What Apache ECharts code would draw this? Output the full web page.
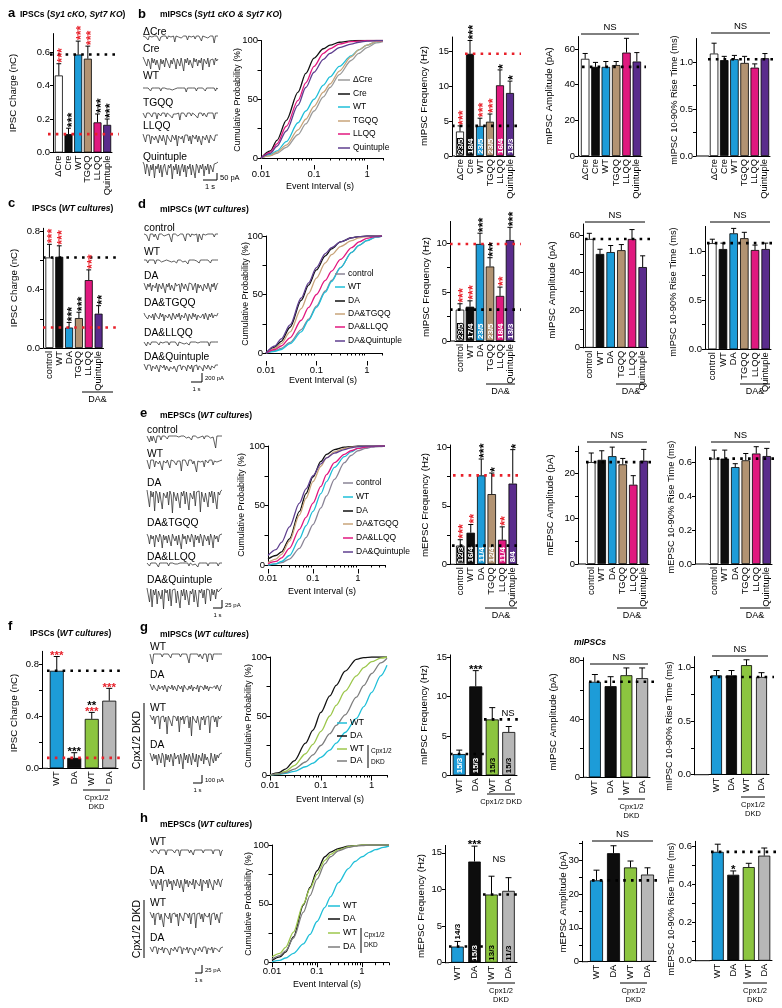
<!DOCTYPE html>
<html><head><meta charset="utf-8">
<script src="https://cdn.jsdelivr.net/npm/echarts@6/dist/echarts.min.js"></script>
<style>html,body{margin:0;padding:0;background:#fff}#c{width:782px;height:1008px}</style>
</head><body><div id="c"></div>
<script>
// ================= DATA =================
const catsSyt = ['ΔCre','Cre','WT','TGQQ','LLQQ','Quintuple'];
const catsDA = ['control','WT','DA','TGQQ','LLQQ','Quintuple'];
const catsCpx = ['WT','DA','WT','DA'];

// a: IPSC charge (nC)
const aCharge = [0.46,0.11,0.585,0.56,0.18,0.165];
const aChargeErr = [0.53,0.145,0.665,0.635,0.23,0.2];
const aStars = ['***','***','***','***','***','***'];
// b: mIPSCs Syt1 cKO & Syt7 KO
const bFreq = [3.5,14.6,4.3,4.9,10.1,9.0];
const bFreqErr = [4.3,16.5,5.4,6.0,12.3,10.7];
const bFreqN = ['23/5','18/4','23/5','23/5','16/4','13/3'];
const bFreqStars = ['***','***','***','***','*','*'];
const bAmp = [54.5,50,50,51,58,53];
const bAmpErr = [57.5,52.5,53,53,66,58];
const bRise = [1.09,1.02,1.03,0.99,0.94,1.04];
const bRiseErr = [1.2,1.06,1.07,1.06,0.98,1.09];
// c: IPSC charge, WT cultures
const cCharge = [0.62,0.625,0.14,0.205,0.465,0.235];
const cChargeErr = [0.71,0.70,0.175,0.245,0.535,0.29];
const cStars = ['***','***','***','***','***','**'];
// d: mIPSCs WT cultures
const dFreq = [3.2,3.5,9.9,7.6,4.6,10.3];
const dFreqErr = [3.8,4.1,11.0,8.5,5.5,11.6];
const dFreqN = ['23/5','17/4','23/5','23/5','18/4','13/3'];
const dFreqStars = ['***','***','***','***','**','***'];
const dAmp = [58,50,51,52,58,43];
const dAmpErr = [61,52.5,54.5,55,63,49];
const dRise = [1.08,1.02,1.18,1.13,1.01,1.02];
const dRiseErr = [1.12,1.08,1.23,1.19,1.06,1.08];
// e: mEPSCs WT cultures
const eFreq = [1.6,2.7,7.6,6.0,2.1,6.9];
const eFreqErr = [2.1,3.4,9.0,7.8,3.2,9.8];
const eFreqN = ['12/3','16/4','11/4','12/4','11/4','8/4'];
const eFreqStars = ['***','**','***','*','**','*'];
const eAmp = [22.5,23,23.8,22,17.5,22.8];
const eAmpErr = [24.5,25,25.8,23.3,19.5,25.3];
const eRise = [0.62,0.62,0.57,0.61,0.65,0.635];
const eRiseErr = [0.67,0.67,0.59,0.65,0.69,0.68];
// f: IPSC charge, Cpx1/2 DKD
const fCharge = [0.75,0.08,0.38,0.52];
const fChargeErr = [0.86,0.12,0.43,0.615];
const fStars = ['***','***','**','***'];
const fStars2 = [null,null,'***',null];
// g: mIPSCs Cpx1/2 DKD
const gFreq = [2.7,11.3,7.1,5.5];
const gFreqErr = [3.2,13.3,8.6,6.2];
const gFreqN = ['15/3','15/3','15/3','15/3'];
const gFreqStars = [null,'***',null,null];
const gAmp = [65.5,62.5,70,68];
const gAmpErr = [70.5,69,75,75];
const gRise = [0.925,0.925,1.02,0.91];
const gRiseErr = [0.97,0.97,1.07,0.95];
// h: mEPSCs Cpx1/2 DKD
const hFreq = [2.2,13.8,9.3,9.8];
const hFreqErr = [2.9,15.9,11.8,11.6];
const hFreqN = ['14/3','15/3','13/3','11/3'];
const hFreqStars = [null,'***',null,null];
const hAmp = [24,32,27.8,25.7];
const hAmpErr = [27,34.2,29.7,27.7];
const hRise = [0.57,0.45,0.49,0.55];
const hRiseErr = [0.61,0.47,0.51,0.59];
const hRiseStars = [null,'*',null,null];

// cumulative probability curves: x = event interval (s), y = %
const cdfX = [0.01,0.015,0.02,0.03,0.05,0.07,0.1,0.15,0.2,0.3,0.5,0.7,1,1.5,2,3,4];
const bCdfDCre = [0,2,4,9,20,29,40,52,60,71,83,89,94,98,99];
const bCdfCre = [0,6,15,32,56,72,85,93,96,98.5,99.7,100,100,100,100];
const bCdfWT = [0,3,6,14,30,40,50,62,69,78,87,92,96,99,99.5];
const bCdfTGQQ = [0,2,5,11,24,33,44,56,63,74,86,92,96,99,99.5];
const bCdfLLQQ = [0,5,12,27,49,64,78,89,93,97,99,99.5,100,100,100];
const bCdfQuint = [0,4,10,23,45,60,73,84,89,94,97,98.5,99.5,100,100];
const dCdfControl = [0,2,4,9,20,29,40,53,62,73,86,92,96,99,100];
const dCdfWT = [0,1.5,3,8,18,28,39,52,61,73,86,92,96,99,100];
const dCdfDA = [0,5,10,22,45,58,71,83,89,95,98.5,99.5,100,100,100];
const dCdfTGQQ = [0,4,8,18,38,51,64,77,84,91,96,98.5,99.5,100,100];
const dCdfLLQQ = [0,3,6,13,28,39,50,62,70,80,90,95,98,99.5,100];
const dCdfQuint = [0,6,12,24,47,60,73,85,90,95,98.5,99.5,100,100,100];
const eCdfControl = [0,1,2,5,14,23,34,48,58,72,86,92,96,98,99,99.5,100];
const eCdfWT = [0,1,3,8,22,33,45,60,70,82,91,95,98,99,99.5,100,100];
const eCdfDA = [5,8,11,22,45,60,74,87,93,97,99,99.5,100,100,100,100,100];
const eCdfTGQQ = [2,5,9,20,42,56,70,83,90,95,98,99,99.5,100,100,100,100];
const eCdfLLQQ = [1,3,6,14,30,40,52,66,76,86,93,96,98,99,99.5,100,100];
const eCdfQuint = [8,13,19,32,52,64,75,85,90,94,97,98.5,99.5,100,100,100,100];
const gCdfWT = [0,0.5,1.5,3,7,10,15,21,27,36,48,58,70,84,93];
const gCdfDA = [0,2,5,12,27,38,53,67,76,88,98,99.5,100,100,100];
const gCdfCWT = [0,1,3,8,18,26,37,50,59,71,84,91,96,99,100];
const gCdfCDA = [0,1,2,5,11,17,25,35,42,51,66,76,86,95,99];
const hCdfWT = [1,2,4,8,16,24,35,47,56,68,80,86,90,94,96,98,99];
const hCdfDA = [2,5,9,22,49,64,78,90,94,97,99,99.5,100,100,100,100,100];
const hCdfCWT = [5,8,13,26,50,63,75,87,92,96,98.5,99.5,100,100,100,100,100];
const hCdfCDA = [3,6,10,21,43,57,71,84,90,95,98,99,99.5,100,100,100,100];

// sample traces (current, arbitrary units; downward events negative)
const trB = [
 [0,0,-1,0,-4,0,0,-1,0,0,-2,0,0,-5,-1,0,0,-1,0,-3,0,0,-1,0,0,-6,0,0,-1,0,-2,0,0,-1,0,-4,0,0,-1,0,0,-3,0,-1,0,0,-5,0,0,-1,0,-2,0,0,-1,0,-7,0,-1,0],
 [-1,-4,-2,-10,-3,-6,-13,-2,-7,-3,-9,-4,-2,-14,-3,-8,-4,-11,-2,-5,-3,-12,-4,-8,-2,-6,-13,-3,-5,-10,-2,-4,-15,-3,-7,-2,-9,-4,-5,-12,-2,-6,-3,-10,-4,-7,-2,-14,-3,-5,-8,-2,-11,-4,-6,-3,-9,-2,-5,-3],
 [0,-1,0,-2,0,-1,-3,0,-1,0,-2,0,-1,0,-3,0,-1,0,-2,-1,0,-1,0,-2,0,-1,-3,0,-1,0,-2,0,-1,0,-4,0,-1,0,-2,0,-1,0,-3,0,-1,0,-2,0,-1,-3,0,-1,0,-2,0,-1,0,-3,0,-1],
 [0,-1,-5,0,-1,0,-2,-4,0,-1,0,-6,0,-1,-3,0,-1,0,-4,0,-1,-2,0,-5,-1,0,-1,-3,0,-7,0,-1,0,-2,-4,0,-1,0,-3,0,-1,-2,0,-5,0,-1,0,-3,0,-1,-4,0,-1,0,-2,0,-6,0,-1,0],
 [0,-2,-8,-1,-3,-1,-10,-2,-1,-6,-2,-1,-9,-1,-3,-7,-1,-2,-11,-1,-4,-2,-8,-1,-2,-6,-1,-12,-2,-1,-5,-2,-9,-1,-3,-1,-7,-2,-10,-1,-2,-5,-1,-8,-2,-1,-11,-2,-3,-6,-1,-2,-9,-1,-4,-2,-7,-1,-2,-1],
 [0,-3,-12,-2,-6,-14,-3,-8,-2,-16,-4,-7,-2,-11,-3,-15,-5,-2,-9,-13,-3,-6,-2,-17,-4,-8,-2,-12,-3,-14,-6,-2,-10,-3,-15,-4,-7,-2,-13,-3,-9,-16,-2,-5,-11,-3,-7,-2,-14,-4,-8,-2,-12,-3,-6,-10,-2,-4,-1,0]
];
const trD = [
 [0,0,-1,0,-7,0,-1,0,-3,0,0,-6,0,-1,0,0,-2,0,-1,0,0,-1,-8,0,-1,0,0,-2,0,0,-1,0,0,-7,0,-1,0,-3,0,0,-1,0,0,-8,0,-1,-6,0,0,-1,0,0,-2,0,-1,0,-3,0,0,0],
 [0,-1,0,-3,0,-1,0,-2,0,-4,0,-1,0,0,-2,0,-1,-3,0,0,-1,0,-2,0,-1,0,-3,0,-1,0,0,-2,0,-1,0,-4,0,-1,0,-2,0,0,-1,0,-3,0,-1,0,-2,0,-1,0,0,-3,0,-1,0,-2,0,0],
 [-1,-3,-8,-2,-5,-1,-9,-3,-2,-6,-1,-10,-2,-4,-7,-1,-3,-11,-2,-5,-1,-8,-3,-2,-9,-1,-4,-6,-2,-10,-1,-3,-7,-2,-5,-9,-1,-3,-2,-8,-4,-1,-11,-2,-6,-3,-1,-9,-2,-4,-7,-1,-3,-10,-2,-5,-1,-8,-3,-1],
 [-2,-5,-3,-8,-4,-2,-7,-3,-9,-2,-5,-4,-8,-2,-6,-3,-10,-4,-2,-7,-3,-5,-9,-2,-4,-8,-3,-6,-2,-9,-4,-3,-7,-2,-5,-10,-3,-4,-8,-2,-6,-3,-9,-4,-2,-7,-5,-3,-8,-2,-4,-9,-3,-6,-2,-7,-4,-3,-5,-2],
 [0,-1,-4,0,-1,-3,0,-1,0,-2,0,-1,-3,0,0,-1,-2,0,-1,0,-3,0,-1,0,-2,0,-1,-4,0,0,-1,0,-2,0,-1,0,-3,0,-1,0,-2,0,0,-1,-3,0,-1,0,-2,0,-1,0,-4,0,-1,0,-2,0,-1,0],
 [0,-2,-6,-1,-3,-1,-7,-2,-1,-5,-1,-3,-8,-1,-2,-4,-1,-6,-2,-1,-7,-3,-1,-5,-2,-1,-8,-2,-4,-1,-6,-2,-1,-3,-7,-1,-2,-5,-1,-8,-2,-3,-1,-6,-2,-1,-4,-7,-1,-2,-5,-1,-3,-6,-2,-1,-4,-1,-2,-1]
];
const trE = [
 [0,-1,-6,0,-5,0,-1,-7,0,-1,0,-4,0,-1,0,0,-3,0,-1,0,-2,0,-1,0,0,-1,-3,0,-1,0,0,-2,0,-1,0,-4,0,-1,0,0,-2,0,-1,0,0,-3,0,-1,0,0,-2,0,-1,0,-12,0,-1,0,0,0],
 [-1,-2,-10,-1,-3,-1,-8,-2,-1,-5,-2,-1,-11,-2,-1,-4,-1,-2,-9,-1,-3,-2,-1,-6,-2,-1,-2,-12,-1,-3,-1,-2,-7,-1,-2,-1,-5,-2,-1,-13,-2,-1,-3,-1,-2,-8,-1,-2,-4,-1,-2,-1,-6,-2,-1,-3,-1,-2,-1,-1],
 [-1,-3,-18,-2,-8,-3,-22,-2,-5,-14,-3,-2,-20,-4,-2,-9,-3,-16,-2,-6,-24,-3,-2,-12,-4,-2,-19,-3,-7,-2,-15,-3,-2,-21,-4,-3,-10,-2,-17,-3,-5,-2,-23,-3,-2,-13,-4,-2,-18,-3,-8,-2,-14,-3,-2,-20,-3,-6,-2,-1],
 [-2,-5,-12,-3,-7,-4,-15,-3,-6,-10,-2,-5,-16,-3,-8,-4,-11,-3,-5,-14,-2,-6,-9,-4,-13,-3,-5,-17,-2,-7,-4,-12,-3,-6,-10,-2,-5,-15,-3,-8,-4,-11,-2,-6,-14,-3,-5,-9,-4,-13,-2,-6,-16,-3,-7,-4,-10,-3,-5,-2],
 [0,-1,-3,0,-1,0,-2,0,-1,-4,0,-1,0,-2,0,-1,0,-3,0,-1,0,-2,-1,0,-1,-3,0,-1,0,-2,0,-1,0,-3,0,-1,-2,0,-1,0,-4,0,-1,0,-2,0,-1,0,-3,0,-1,0,-2,0,-1,0,-3,0,-1,0],
 [-1,-3,-15,-2,-20,-3,-8,-2,-17,-4,-2,-12,-3,-22,-2,-6,-3,-14,-2,-19,-3,-5,-2,-16,-4,-2,-21,-3,-9,-2,-13,-3,-2,-18,-4,-7,-2,-15,-3,-2,-20,-3,-6,-2,-11,-3,-17,-2,-4,-3,-14,-2,-8,-3,-12,-2,-5,-3,-2,-1]
];
const trG = [
 [0,-1,-10,0,-1,0,-2,0,-1,0,-3,0,-1,0,-2,0,-1,-4,0,-1,0,-2,0,-1,0,-3,0,-1,0,-2,0,-1,-9,0,-1,0,-2,0,-1,0,-3,0,-1,-5,0,-1,0,-8,0,-1,0,-6,0,-1,0,-2,0,-1,0,0],
 [-1,-4,-7,-2,-5,-3,-8,-2,-6,-4,-3,-7,-2,-5,-9,-3,-4,-6,-2,-7,-3,-5,-8,-2,-4,-6,-3,-9,-2,-5,-4,-7,-3,-6,-2,-8,-4,-3,-6,-2,-9,-3,-5,-4,-7,-2,-6,-3,-8,-4,-2,-5,-7,-3,-6,-2,-4,-8,-3,-2],
 [-1,-3,-6,-2,-10,-3,-5,-2,-15,-3,-4,-2,-8,-3,-20,-2,-5,-3,-12,-2,-4,-3,-7,-2,-18,-3,-6,-2,-10,-3,-4,-2,-14,-3,-22,-2,-5,-3,-9,-2,-4,-16,-3,-6,-2,-11,-3,-5,-2,-19,-3,-4,-2,-8,-3,-13,-2,-5,-3,-2],
 [-2,-6,-10,-3,-8,-4,-14,-3,-7,-12,-2,-5,-16,-3,-9,-4,-11,-3,-6,-15,-2,-8,-10,-4,-13,-3,-7,-18,-2,-9,-4,-12,-3,-6,-14,-2,-8,-11,-3,-16,-4,-7,-10,-2,-13,-3,-9,-6,-4,-15,-2,-8,-12,-3,-10,-4,-7,-3,-5,-2]
];
const trH = [
 [0,-1,-3,0,-1,0,-2,-4,0,-1,0,-2,0,-5,0,-1,0,-2,0,-1,-3,0,-1,0,-6,0,-1,0,-2,0,-1,0,-3,0,-1,-5,0,-1,0,-2,0,-1,0,-3,0,-1,0,-2,0,-1,0,-4,0,-1,0,-2,0,-6,-1,0],
 [-2,-4,-9,-3,-6,-12,-3,-5,-8,-2,-14,-4,-6,-3,-10,-2,-7,-4,-13,-3,-5,-9,-2,-6,-11,-3,-4,-15,-2,-7,-3,-10,-4,-5,-8,-2,-12,-3,-6,-4,-9,-2,-14,-3,-5,-7,-3,-11,-2,-6,-4,-13,-3,-5,-8,-2,-4,-10,-3,-2],
 [-1,-3,-7,-2,-14,-3,-5,-2,-9,-3,-4,-16,-2,-5,-3,-8,-2,-12,-3,-4,-2,-6,-3,-15,-2,-5,-3,-10,-2,-4,-3,-7,-2,-13,-3,-5,-2,-17,-3,-4,-2,-8,-3,-11,-2,-5,-3,-6,-2,-14,-3,-4,-2,-9,-3,-5,-12,-2,-3,-2],
 [-1,-2,-6,-1,-3,-1,-8,-2,-1,-4,-1,-7,-2,-1,-3,-1,-9,-2,-1,-5,-1,-2,-6,-1,-3,-1,-8,-2,-1,-4,-1,-7,-2,-1,-3,-1,-9,-2,-1,-5,-1,-2,-6,-1,-3,-1,-8,-2,-1,-4,-1,-7,-2,-1,-3,-1,-6,-2,-1,-1]
];

// ================= STYLE / BUILD =================
const FONT = '"Liberation Sans", Arial, Helvetica, sans-serif';
const K = '#000000', R = '#e8202a';
const C = {wh:'#ffffff', bk:'#0d0d0d', bl:'#1d9cd8', tn:'#b29372', pk:'#e0197f', pu:'#5a2c8c', gr:'#8cc540', gy:'#b7b7b7'};
const LC = {gy:'#9b9b9b', bk:'#111111', cy:'#1fbfd8', tn:'#c8a47a', pk:'#e2187f', pu:'#5f3f8f', ctl:'#8a8496', gr:'#9cc74c', dg:'#7d7d7d'};
const COL6 = [C.wh, C.bk, C.bl, C.tn, C.pk, C.pu];
const COL4 = [C.bl, C.bk, C.gr, C.gy];

const option = {animation:false, backgroundColor:'#ffffff', grid:[], xAxis:[], yAxis:[], series:[], graphic:[]};
const G = option.graphic;
function addGrid(g){ option.grid.push(g); return option.grid.length-1; }
function addX(a){ option.xAxis.push(a); return option.xAxis.length-1; }
function addY(a){ option.yAxis.push(a); return option.yAxis.length-1; }
function txt(x,y,text,o={}){
  G.push({type:'text', x, y, rotation:o.rot||0, z:10, silent:true,
    style:{text, font:(o.st||'normal')+' '+(o.w||'normal')+' '+(o.fs||10)+'px '+FONT, fill:o.c||K, align:o.a||'left', verticalAlign:o.va||'middle'}});
}
function rtxt(x,y,parts,fs){ // parts: [[text, italic]]
  const rich = {b:{fontWeight:'bold', fontSize:fs, fontFamily:FONT, fill:K}, i:{fontWeight:'bold', fontStyle:'italic', fontSize:fs, fontFamily:FONT, fill:K}};
  G.push({type:'text', x, y, z:10, silent:true, style:{text:parts.map(p=>'{'+(p[1]?'i':'b')+'|'+p[0]+'}').join(''), rich, verticalAlign:'middle', align:'left'}});
}
function ln(x1,y1,x2,y2,o={}){ G.push({type:'line', z:10, silent:true, shape:{x1,y1,x2,y2}, style:{stroke:o.c||K, lineWidth:o.w||1}}); }

function barPanel(p){
  const h = p.max*p.ppu, top = p.y0 - h;
  const gi = addGrid({left:p.gl, top, width:p.gw, height:h});
  const xi = addX({type:'category', gridIndex:gi, data:p.cats,
    axisLine:{show:true, lineStyle:{color:K, width:1}}, axisTick:{show:false},
    axisLabel:{interval:0, rotate:90, fontSize:9.3, color:K, fontFamily:FONT, margin:3}, splitLine:{show:false}});
  const yi = addY({type:'value', gridIndex:gi, min:0, max:p.max, offset:p.gl-p.axisX,
    axisLine:{show:true, lineStyle:{color:K, width:1}},
    axisTick:{show:true, length:3, customValues:p.ticks, lineStyle:{color:K}},
    axisLabel:{customValues:p.labels, formatter:v=>Number(v).toFixed(p.dec||0), fontSize:9.5, color:K, fontFamily:FONT, margin:3},
    splitLine:{show:false}});
  if (p.gl > p.axisX) ln(p.axisX, p.y0, p.gl, p.y0);
  option.series.push({type:'bar', xAxisIndex:xi, yAxisIndex:yi, barWidth:p.bw, z:2,
    data:p.vals.map((v,i)=>({value:v, itemStyle:{color:p.colors[i], borderColor:K, borderWidth:0.8}}))});
  if (p.refs) option.series.push({type:'custom', xAxisIndex:xi, yAxisIndex:yi, z:4,
    data:p.refs.map(r=>[0, r.v]),
    renderItem:(params, api)=>{
      const r = p.refs[params.dataIndex];
      const cs = params.coordSys;
      const band = cs.width / p.cats.length;
      const y = api.coord([0, api.value(1)])[1];
      const x0 = r.from == null ? p.axisX - (r.l||0) : api.coord([r.from, 0])[0] - band/2;
      const x1 = r.to == null ? cs.x + cs.width + (r.r==null?5:r.r) : api.coord([r.to, 0])[0] + band/2 + (r.r==null?2:r.r);
      return {type:'line', shape:{x1:x0, y1:y, x2:x1, y2:y}, style:{stroke:r.c, lineWidth:2.6, lineDash:[2.6,5.2]}};
    }});
  option.series.push({type:'custom', xAxisIndex:xi, yAxisIndex:yi, z:5,
    data:p.vals.map((v,i)=>[i, v, p.err[i]]),
    renderItem:(params, api)=>{
      const i = params.dataIndex;
      const pv = api.coord([api.value(0), api.value(1)]);
      const pe = api.coord([api.value(0), api.value(2)]);
      const cap = Math.min(p.bw*0.6, 6);
      const ch = [
        {type:'line', shape:{x1:pv[0], y1:pv[1], x2:pe[0], y2:pe[1]}, style:{stroke:K, lineWidth:1}},
        {type:'line', shape:{x1:pe[0]-cap/2, y1:pe[1], x2:pe[0]+cap/2, y2:pe[1]}, style:{stroke:K, lineWidth:1}}
      ];
      if (p.stars && p.stars[i]) {
        if (p.starRot) {
          ch.push({type:'text', x:pe[0]+3.6, y:pe[1]-1, rotation:Math.PI/2,
            style:{text:p.stars[i], font:'bold 12.5px '+FONT, fill:p.starCol[i], align:'left', verticalAlign:'middle'}});
        } else {
          let yy = pe[1] - 1;
          if (p.stars2 && p.stars2[i]) {
            ch.push({type:'text', x:pe[0], y:yy, style:{text:p.stars2[i], font:'bold 11.5px '+FONT, fill:p.star2Col[i], align:'center', verticalAlign:'middle'}});
            yy -= 6;
          }
          ch.push({type:'text', x:pe[0], y:yy, style:{text:p.stars[i], font:'bold 11.5px '+FONT, fill:p.starCol[i], align:'center', verticalAlign:'middle'}});
        }
      }
      if (p.nLab && p.nLab[i]) {
        const y0 = api.coord([api.value(0), 0])[1];
        const above = p.nAbove && p.nAbove[i];
        const white = p.nCol[i] === 'w';
        const outline = white && p.colors[i] === C.wh;
        ch.push({type:'text', x:pv[0]+0.5, y:above ? pe[1]-2 : y0-2, rotation:Math.PI/2,
          style:{text:p.nLab[i], font:'bold 8px '+FONT, fill:white?'#ffffff':K,
            stroke:outline?'#000':null, lineWidth:outline?2:0, strokeFirst:true, align:'left', verticalAlign:'middle'}});
      }
      return {type:'group', children:ch};
    }});
}

function cdfPanel(c){
  const gi = addGrid({left:c.left, top:c.top, width:c.width, height:c.height});
  const minor = [0.02,0.03,0.04,0.05,0.06,0.07,0.08,0.09,0.2,0.3,0.4,0.5,0.6,0.7,0.8,0.9,2,3,4].filter(v=>v<=c.max);
  const xi = addX({type:'log', logBase:10, gridIndex:gi, min:0.01, max:c.max, offset:c.xOff, position:'bottom',
    axisLine:{show:true, lineStyle:{color:K}},
    axisTick:{show:true, length:2.5, customValues:minor, lineStyle:{color:K}},
    axisLabel:{customValues:[0.01,0.1,1], formatter:v=>String(v), fontSize:9.5, color:K, fontFamily:FONT, margin:4},
    splitLine:{show:false}, minorTick:{show:false}});
  addX({type:'log', logBase:10, gridIndex:gi, min:0.01, max:c.max, offset:c.xOff, position:'bottom',
    axisLine:{show:false}, axisTick:{show:true, length:4.5, customValues:[0.01,0.1,1], lineStyle:{color:K}},
    axisLabel:{show:false}, splitLine:{show:false}});
  const yi = addY({type:'value', gridIndex:gi, min:0, max:100,
    axisLine:{show:true, lineStyle:{color:K}},
    axisTick:{show:true, length:3.5, customValues:[0,25,50,75,100], lineStyle:{color:K}},
    axisLabel:{customValues:[0,50,100], fontSize:9.5, color:K, fontFamily:FONT, margin:3},
    splitLine:{show:false}});
  c.curves.forEach(cv=>option.series.push({type:'line', xAxisIndex:xi, yAxisIndex:yi, z:3,
    data:cv.data.map((y,k)=>[cdfX[k], y]), smooth:0.3, smoothMonotone:'x', symbol:'none',
    lineStyle:{color:cv.color, width:1.3}}));
  c.curves.forEach((cv,k)=>{ ln(c.lx, c.ly[k], c.lx+c.llen, c.ly[k], {c:cv.color, w:1.5}); txt(c.lx+c.llen+3, c.ly[k], cv.name, {fs:c.lfs||8.5}); });
  txt(c.yName[0], c.yName[1], 'Cumulative Probability (%)', {rot:Math.PI/2, a:'center', fs:8.8});
  txt(c.xName[0], c.xName[1], 'Event Interval (s)', {a:'center', fs:9});
}

function traces(t){
  t.data.forEach((arr,k)=>{
    const n = arr.length;
    const gi = addGrid({left:t.x0, top:t.base[k]-3, width:t.x1-t.x0, height:t.depth+3});
    const xi = addX({type:'value', gridIndex:gi, min:0, max:n-1, show:false});
    const yi = addY({type:'value', gridIndex:gi, min:-t.depth, max:3, show:false});
    option.series.push({type:'line', xAxisIndex:xi, yAxisIndex:yi, silent:true, symbol:'none',
      data:arr.map((v,j)=>[j,v]), lineStyle:{color:'#2b2b2b', width:0.75}});
    txt(t.x0, t.ly[k], t.labels[k], {fs:10.3});
  });
}

// ----- titles
txt(8,13,'a',{w:'bold',fs:13}); rtxt(20,15,[['IPSCs ('],['Sy1 cKO, Syt7 KO',1],[')']],8.5);
txt(138,14,'b',{w:'bold',fs:13}); rtxt(160,15,[['mIPSCs ('],['Syt1 cKO & Syt7 KO',1],[')']],8.5);
txt(8,203,'c',{w:'bold',fs:13}); rtxt(32,209,[['IPSCs ('],['WT cultures',1],[')']],8.5);
txt(138,204,'d',{w:'bold',fs:13}); rtxt(160,210,[['mIPSCs ('],['WT cultures',1],[')']],8.5);
txt(140,413,'e',{w:'bold',fs:13}); rtxt(160,416,[['mEPSCs ('],['WT cultures',1],[')']],8.5);
txt(8,626,'f',{w:'bold',fs:13}); rtxt(30,634,[['IPSCs ('],['WT cultures',1],[')']],8.5);
txt(140,627,'g',{w:'bold',fs:13}); rtxt(160,635,[['mIPSCs ('],['WT cultures',1],[')']],8.5);
txt(140,818,'h',{w:'bold',fs:13}); rtxt(160,825,[['mEPSCs ('],['WT cultures',1],[')']],8.5);
txt(590,643,'mIPSCs',{w:'bold',st:'italic',fs:8.5,a:'center'});

// ----- bar panels
barPanel({cats:catsSyt, vals:aCharge, err:aChargeErr, colors:COL6, axisX:53, gl:54, gw:58, y0:152.5, ppu:167.5, max:0.71,
  ticks:[0,0.2,0.4,0.6], labels:[0,0.2,0.4,0.6], dec:1, bw:8,
  stars:aStars, starCol:[R,K,R,R,K,K], starRot:true,
  refs:[{v:aCharge[2], c:K, l:3, r:6},{v:aCharge[1], c:R, l:5, r:7}]});
barPanel({cats:catsSyt, vals:bFreq, err:bFreqErr, colors:COL6, axisX:452, gl:455, gw:60, y0:156, ppu:7, max:17,
  ticks:[0,5,10,15], labels:[0,5,10,15], dec:0, bw:8,
  stars:bFreqStars, starCol:[R,K,R,R,K,K], starRot:true, nLab:bFreqN, nCol:['w','w','w','w','w','w'],
  refs:[{v:bFreq[1], c:R, from:1, r:6},{v:bFreq[2], c:K, l:0, r:6}]});
barPanel({cats:catsSyt, vals:bAmp, err:bAmpErr, colors:COL6, axisX:578, gl:580, gw:62, y0:156, ppu:1.783, max:67,
  ticks:[0,20,40,60], labels:[0,20,40,60], dec:0, bw:8.5, refs:[{v:bAmp[2], c:K, l:-4, r:4}]});
barPanel({cats:catsSyt, vals:bRise, err:bRiseErr, colors:COL6, axisX:696, gl:709, gw:61, y0:156, ppu:94, max:1.25,
  ticks:[0,0.25,0.5,0.75,1], labels:[0,0.5,1], dec:1, bw:8.5, refs:[{v:bRise[2], c:K, l:-12, r:4}]});

barPanel({cats:catsDA, vals:cCharge, err:cChargeErr, colors:COL6, axisX:43, gl:44.5, gw:59, y0:348, ppu:146, max:0.82,
  ticks:[0,0.2,0.4,0.6,0.8], labels:[0,0.4,0.8], dec:1, bw:8,
  stars:cStars, starCol:[R,R,K,K,R,K], starRot:true,
  refs:[{v:cCharge[0], c:K, l:0, r:13},{v:cCharge[2], c:R, l:0, r:13}]});
barPanel({cats:catsDA, vals:dFreq, err:dFreqErr, colors:COL6, axisX:450, gl:455, gw:60, y0:341, ppu:9.8, max:12.2,
  ticks:[0,2.5,5,7.5,10], labels:[0,5,10], dec:0, bw:8.5,
  stars:dFreqStars, starCol:[R,R,K,K,R,K], starRot:true, nLab:dFreqN, nCol:['w','w','w','w','w','w'],
  refs:[{v:dFreq[2], c:R, l:0, r:6},{v:dFreq[0], c:K, l:0, r:6}]});
barPanel({cats:catsDA, vals:dAmp, err:dAmpErr, colors:COL6, axisX:583, gl:584, gw:64, y0:347.7, ppu:1.875, max:66,
  ticks:[0,10,20,30,40,50,60], labels:[0,20,40,60], dec:0, bw:8.5, refs:[{v:dAmp[0], c:K, l:-2, r:6}]});
barPanel({cats:catsDA, vals:dRise, err:dRiseErr, colors:COL6, axisX:705, gl:707, gw:64, y0:349.3, ppu:98.3, max:1.25,
  ticks:[0,0.25,0.5,0.75,1], labels:[0,0.5,1], dec:1, bw:8.5, refs:[{v:dRise[0], c:K, l:-2, r:4}]});

barPanel({cats:catsDA, vals:eFreq, err:eFreqErr, colors:COL6, axisX:450, gl:455, gw:63, y0:564.3, ppu:11.7, max:10.2,
  ticks:[0,2.5,5,7.5,10], labels:[0,5,10], dec:0, bw:8.5,
  stars:eFreqStars, starCol:[R,R,K,K,R,K], starRot:true, nLab:eFreqN, nCol:['w','w','w','w','w','w'],
  refs:[{v:eFreq[2], c:R, l:-3, r:4},{v:eFreq[0], c:K, l:-2, r:4}]});
barPanel({cats:catsDA, vals:eAmp, err:eAmpErr, colors:COL6, axisX:578, gl:586, gw:63, y0:564, ppu:4.53, max:26,
  ticks:[0,5,10,15,20,25], labels:[0,10,20], dec:0, bw:8.5, refs:[{v:eAmp[0], c:K, l:-8, r:6}]});
barPanel({cats:catsDA, vals:eRise, err:eRiseErr, colors:COL6, axisX:695, gl:709, gw:63, y0:564, ppu:170, max:0.69,
  ticks:[0,0.2,0.4,0.6], labels:[0,0.2,0.4,0.6], dec:1, bw:8.5, refs:[{v:eRise[0], c:K, l:-14, r:5}]});

barPanel({cats:catsCpx, vals:fCharge, err:fChargeErr, colors:COL4, axisX:42, gl:48, gw:70, y0:768.3, ppu:130, max:0.9,
  ticks:[0,0.2,0.4,0.6,0.8], labels:[0,0.4,0.8], dec:1, bw:14,
  stars:fStars, starCol:[R,K,K,R], stars2:fStars2, star2Col:[null,null,R,null], starRot:false,
  refs:[{v:fCharge[0], c:K, l:-5, r:2},{v:fCharge[1], c:R, l:-5, r:2}]});
barPanel({cats:catsCpx, vals:gFreq, err:gFreqErr, colors:COL4, axisX:450, gl:451, gw:66, y0:775.3, ppu:7.87, max:15.3,
  ticks:[0,5,10,15], labels:[0,5,10,15], dec:0, bw:13,
  stars:gFreqStars, starCol:[K,K,K,K], starRot:false, nLab:gFreqN, nCol:['w','w','k','k'],
  refs:[{v:gFreq[0], c:K, l:0, to:1, r:2},{v:gFreq[2], c:K, from:2, to:3, r:4}]});
barPanel({cats:catsCpx, vals:gAmp, err:gAmpErr, colors:COL4, axisX:583, gl:587, gw:63, y0:777.3, ppu:1.458, max:82,
  ticks:[0,20,40,60,80], labels:[0,40,80], dec:0, bw:12, refs:[{v:gAmp[0], c:K, l:-6, r:6}]});
barPanel({cats:catsCpx, vals:gRise, err:gRiseErr, colors:COL4, axisX:694, gl:709, gw:60, y0:774.7, ppu:107.4, max:1.1,
  ticks:[0,0.25,0.5,0.75,1], labels:[0,0.5,1], dec:1, bw:11, refs:[{v:gRise[3], c:K, l:-16, r:5}]});

barPanel({cats:catsCpx, vals:hFreq, err:hFreqErr, colors:COL4, axisX:445, gl:449, gw:68, y0:962.7, ppu:7.33, max:16,
  ticks:[0,5,10,15], labels:[0,5,10,15], dec:0, bw:12.5,
  stars:hFreqStars, starCol:[K,K,K,K], starRot:false, nLab:hFreqN, nCol:['k','w','k','k'], nAbove:[true,false,false,false],
  refs:[{v:hFreq[0], c:K, l:-4, to:1, r:2},{v:hFreq[2], c:K, from:2, to:3, r:2}]});
barPanel({cats:catsCpx, vals:hAmp, err:hAmpErr, colors:COL4, axisX:582, gl:588, gw:68, y0:961.7, ppu:3.39, max:35.5,
  ticks:[0,5,10,15,20,25,30,35], labels:[0,10,20,30], dec:0, bw:13, refs:[{v:hAmp[0], c:K, l:-10, r:5}]});
barPanel({cats:catsCpx, vals:hRise, err:hRiseErr, colors:COL4, axisX:695, gl:710, gw:62, y0:960.7, ppu:191, max:0.625,
  ticks:[0,0.1,0.2,0.3,0.4,0.5,0.6], labels:[0,0.2,0.4,0.6], dec:1, bw:12,
  stars:hRiseStars, starCol:[K,K,K,K], starRot:false, refs:[{v:hRise[0], c:K, l:-16, r:4}]});

// axis names for bar panels
const yn = (x,y,t,fs)=>txt(x,y,t,{rot:Math.PI/2, a:'center', fs:fs||9.7});
yn(13,93,'IPSC Charge (nC)'); yn(424,96,'mIPSC Frequency (Hz)'); yn(549,96,'mIPSC Amplitude (pA)'); yn(674,100,'mIPSC 10-90% Rise Time (ms)',9.3);
yn(14,288,'IPSC Charge (nC)'); yn(426,287,'mIPSC Frequency (Hz)'); yn(552,290,'mIPSC Amplitude (pA)'); yn(673,292,'mIPSC 10-90% Rise Time (ms)',9.3);
yn(425,505,'mEPSC Frequency (Hz)'); yn(550,505,'mEPSC Amplitude (pA)'); yn(671,507,'mEPSC 10-90% Rise Time (ms)',9.3);
yn(14,713,'IPSC Charge (nC)'); yn(424,715,'mIPSC Frequency (Hz)'); yn(553,722,'mIPSC Amplitude (pA)'); yn(669,726,'mIPSC 10-90% Rise Time (ms)',9.3);
yn(421,906,'mEPSC Frequency (Hz)'); yn(563,902,'mEPSC Amplitude (pA)'); yn(671,909,'mEPSC 10-90% Rise Time (ms)',9.3);

// NS brackets
function ns(x1,x2,y){ ln(x1,y,x2,y); txt((x1+x2)/2,y-7,'NS',{a:'center',fs:9.5}); }
ns(581,639,34); ns(711,770,33); ns(585,645,222); ns(710,770,222); ns(587,647,442); ns(711,770,442);
ns(590,648,664); ns(712,768,656); ns(592,653,841);
txt(508,713,'NS',{a:'center',fs:9.5}); txt(499,859,'NS',{a:'center',fs:9.5});

// group brackets under category labels
function grp(x1,x2,y,lines,fs){ ln(x1,y,x2,y); lines.forEach((s,k)=>txt((x1+x2)/2, y+8+k*8.5, s, {a:'center', fs})); }
grp(82,113,392,['DA&'],9); grp(486,515,384,['DA&'],9); grp(616,646,384,['DA&'],9); grp(740,770,384,['DA&'],9);
grp(485,517,608,['DA&'],9); grp(617,647,608,['DA&'],9); grp(740,770,608,['DA&'],9);
grp(83,110,790,['Cpx1/2','DKD'],7.5); grp(487,515,794,['Cpx1/2 DKD'],7.5); grp(618,645,799,['Cpx1/2','DKD'],7.5); grp(741,765,797,['Cpx1/2','DKD'],7.5);
grp(487,515,983,['Cpx1/2','DKD'],7.5); grp(620,647,983,['Cpx1/2','DKD'],7.5); grp(743,767,983,['Cpx1/2','DKD'],7.5);

// ----- CDF panels
cdfPanel({left:261, top:40.5, width:122, height:117.5, max:2, xOff:7,
  curves:[{name:'ΔCre',data:bCdfDCre,color:LC.gy},{name:'Cre',data:bCdfCre,color:LC.bk},{name:'WT',data:bCdfWT,color:LC.cy},
          {name:'TGQQ',data:bCdfTGQQ,color:LC.tn},{name:'LLQQ',data:bCdfLLQQ,color:LC.pk},{name:'Quintuple',data:bCdfQuint,color:LC.pu}],
  lx:338, llen:12, ly:[80,94,107,121,134,148], lfs:8.5, yName:[238,100], xName:[320,187]});
cdfPanel({left:266, top:236, width:116, height:117, max:2, xOff:8,
  curves:[{name:'control',data:dCdfControl,color:LC.ctl},{name:'WT',data:dCdfWT,color:LC.cy},{name:'DA',data:dCdfDA,color:LC.bk},
          {name:'DA&TGQQ',data:dCdfTGQQ,color:LC.tn},{name:'DA&LLQQ',data:dCdfLLQQ,color:LC.pk},{name:'DA&Quintuple',data:dCdfQuint,color:LC.pu}],
  lx:335, llen:10, ly:[274,287,301,314,327,341], lfs:8.5, yName:[246,294], xName:[323,381]});
cdfPanel({left:268, top:446, width:117, height:119, max:4, xOff:4,
  curves:[{name:'control',data:eCdfControl,color:LC.ctl},{name:'WT',data:eCdfWT,color:LC.cy},{name:'DA',data:eCdfDA,color:LC.bk},
          {name:'DA&TGQQ',data:eCdfTGQQ,color:LC.tn},{name:'DA&LLQQ',data:eCdfLLQQ,color:LC.pk},{name:'DA&Quintuple',data:eCdfQuint,color:LC.pu}],
  lx:343, llen:10, ly:[483,497,511,524,538,552], lfs:8.5, yName:[242,505], xName:[322,592]});
cdfPanel({left:270, top:657, width:117, height:118, max:2, xOff:1,
  curves:[{name:'WT',data:gCdfWT,color:LC.cy},{name:'DA',data:gCdfDA,color:LC.bk},{name:'WT',data:gCdfCWT,color:LC.gr},{name:'DA',data:gCdfCDA,color:LC.dg}],
  lx:337, llen:10, ly:[723,736,749,761], lfs:9, yName:[249,716], xName:[330,800]});
cdfPanel({left:272, top:845, width:117, height:117.7, max:4, xOff:0,
  curves:[{name:'WT',data:hCdfWT,color:LC.cy},{name:'DA',data:hCdfDA,color:LC.bk},{name:'WT',data:hCdfCWT,color:LC.gr},{name:'DA',data:hCdfCDA,color:LC.dg}],
  lx:328, llen:12, ly:[906,919,933,947], lfs:9, yName:[249,904], xName:[327,985]});
// legend group brackets (Cpx1/2 DKD)
ln(368,745,368,768); txt(371,751,'Cpx1/2',{fs:6.5}); txt(371,762,'DKD',{fs:6.5});
ln(361,928,361,953); txt(364,935,'Cpx1/2',{fs:6.5}); txt(364,945,'DKD',{fs:6.5});

// ----- traces
traces({x0:143, x1:218, depth:18, labels:catsSyt, ly:[31.7,49,76,103,126,157], base:[36,56,88,113,134,162], data:trB});
traces({x0:144, x1:218, depth:14, labels:['control','WT','DA','DA&TGQQ','DA&LLQQ','DA&Quintuple'], ly:[228,252,276,303,333,357], base:[234,260,282,311,342,364], data:trD});
traces({x0:147, x1:222, depth:26, labels:['control','WT','DA','DA&TGQQ','DA&LLQQ','DA&Quintuple'], ly:[430,454,483,523,557,580], base:[436,459,489,532,563,587], data:trE});
traces({x0:150, x1:222, depth:24, labels:catsCpx, ly:[647,675,708,745], base:[654,683,714,751], data:trG});
traces({x0:150, x1:223, depth:18, labels:catsCpx, ly:[842,871,903,938], base:[850,877,911,946], data:trH});
// Cpx1/2 DKD trace brackets
ln(144,703,144,790); txt(137,740,'Cpx1/2 DKD',{rot:Math.PI/2, a:'center', fs:10.5});
ln(144,900,144,958); txt(137,929,'Cpx1/2 DKD',{rot:Math.PI/2, a:'center', fs:10.5});
// scale bars
function sbar(xv,yt,yb,xl,lab,fs){ ln(xv,yt,xv,yb); ln(xl,yb,xv,yb); txt(xv+3,(yt+yb)/2+1,lab,{fs}); txt((xl+xv)/2,yb+7,'1 s',{a:'center',fs}); }
sbar(217,173,180,203,'50 pA',7.5);
sbar(202,373,382,191,'200 pA',6);
sbar(222,600,608,213,'25 pA',6);
sbar(202,775,783,193,'100 pA',6);
sbar(202,965,973,195,'25 pA',6);

const chart = echarts.init(document.getElementById('c'), null, {renderer:'canvas', width:782, height:1008});
chart.setOption(option);
</script></body></html>
